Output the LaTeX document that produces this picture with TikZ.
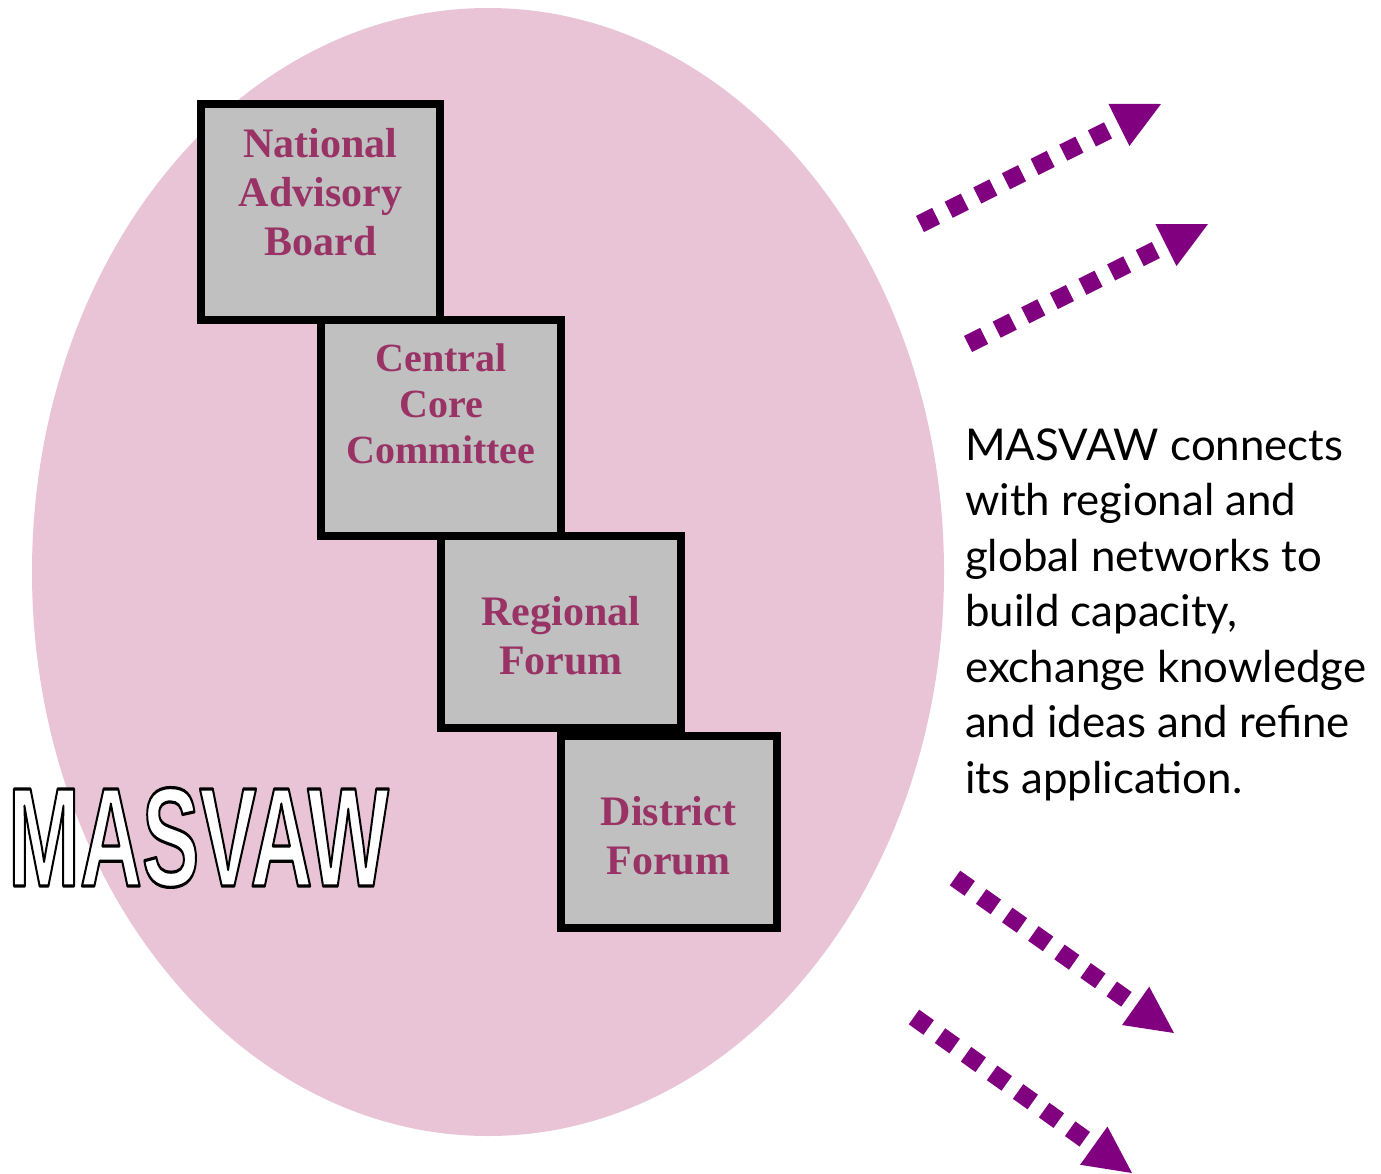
\documentclass[tikz,border=0pt]{standalone}
\usepackage{fontspec}
\usepackage{graphicx}
\usetikzlibrary{arrows.meta}
\setmainfont{Liberation Serif}
\newfontfamily\bodyfont{Lato}
\newfontfamily\logofont{Liberation Sans}
\definecolor{blush}{RGB}{233,195,214}
\definecolor{boxgrey}{RGB}{192,192,192}
\definecolor{plum}{RGB}{153,51,102}
\definecolor{violetdot}{RGB}{128,0,128}
% white letters with a black outline (text render mode 2: fill and stroke)
\newcommand\logoword{\scalebox{0.61}[1]{\logofont\bfseries\fontsize{141}{141}\selectfont
  \special{pdf:literal direct 0 0 0 RG 3.2 w 1 j 2 Tr}MASVAW\special{pdf:literal direct 0 Tr}}}
\begin{document}
\begin{tikzpicture}[x=1pt,y=-1pt,
  tier/.style={draw=black, line width=8pt, fill=boxgrey, rectangle, inner sep=0pt, outer sep=0pt},
  tierlabel/.style={text=plum, font=\bfseries\fontsize{42}{49}\selectfont, align=center, inner sep=0pt, anchor=base},
  dotarrow/.style={draw=violetdot, line width=18pt, dash pattern=on 18pt off 14pt,
    -{Triangle[length=47pt,width=47pt,line width=0pt]}}]
\useasboundingbox (0,0) rectangle (1381,1173);
% organisation oval
\fill[blush] (488,572) ellipse [x radius=456, y radius=564];

% tiers of the organisation
\node[tier, minimum width=239pt, minimum height=216pt] (nab) at (320.5,212) {};
\node[tier, minimum width=240pt, minimum height=216pt] (ccc) at (441,428) {};
\node[tier, minimum width=240pt, minimum height=192pt] (rf) at (561,632) {};
\node[tier, minimum width=216pt, minimum height=192pt] (df) at (669,832) {};

% labels, placed by the baseline of their last line
\node[tierlabel] (nabt) at (320.5,255) {National\\Advisory\\Board};
\node[tierlabel, font=\bfseries\fontsize{40}{46}\selectfont] (ccct) at (441,463) {Central\\Core\\Committee};
\node[tierlabel] (rft) at (561,674) {Regional\\Forum};
\node[tierlabel] (dft) at (668.5,874) {District\\Forum};

% outlined logo word
\node[inner sep=0pt, anchor=base west, text=white] (logo) at (8,886) {\logoword};

% description
\node[inner sep=0pt, anchor=base west, align=left,
      font=\bodyfont\fontsize{43.8}{55.5}\selectfont] (desc) at (965,793)
  {MASVAW connects\\with regional and\\global networks to\\build capacity,\\exchange knowledge\\and ideas and refine\\its application.};

% outgoing links
\coordinate (a1s) at (920,224);  \coordinate (a1e) at (1161,104);
\coordinate (a2s) at (968,344);  \coordinate (a2e) at (1208,224);
\coordinate (a3s) at (955,878);  \coordinate (a3e) at (1174,1033);
\coordinate (a4s) at (914,1017); \coordinate (a4e) at (1132,1173);
\draw[dotarrow] (a1s) -- (a1e);
\draw[dotarrow] (a2s) -- (a2e);
\draw[dotarrow] (a3s) -- (a3e);
\draw[dotarrow] (a4s) -- (a4e);
\end{tikzpicture}
\end{document}
